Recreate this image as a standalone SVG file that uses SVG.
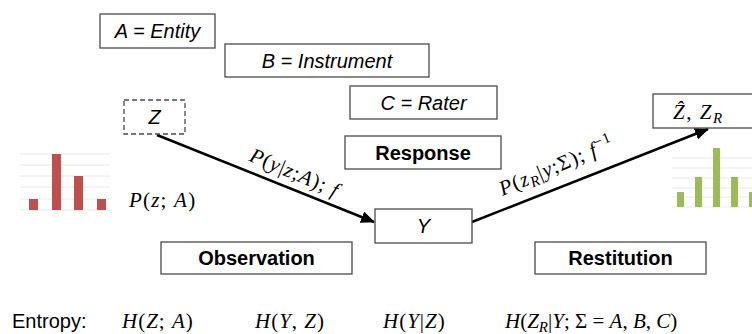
<svg xmlns="http://www.w3.org/2000/svg" width="752" height="334" viewBox="0 0 752 334">
<style>
.box{fill:#fff;stroke:#4a4a4a;stroke-width:1.3}
.dash{fill:#fff;stroke:#4a4a4a;stroke-width:1.3;stroke-dasharray:5 3}
.lbl{font-family:"Liberation Sans",Arial,sans-serif;font-size:20px;fill:#000;text-anchor:middle}
.it{font-style:italic}
.bd{font-weight:bold}
.m{font-family:"Liberation Serif","DejaVu Serif",serif;font-size:21px;fill:#000}
.mi{font-style:italic}
.grid{stroke:#e8e8e8;stroke-width:1}
.red{fill:#c0504d}
.grn{fill:#9bbb59}
.conn{stroke:#000;stroke-width:2.5;fill:none}
</style>
<defs>
<marker id="ah" markerUnits="userSpaceOnUse" markerWidth="14" markerHeight="12" refX="13" refY="6" orient="auto">
<path d="M0,0 L14,6 L0,12 z" fill="#000"/>
</marker>
</defs>

<g id="hist-red">
<path class="grid" d="M20,154H110M20,165H110M20,176H110M20,187H110M20,199H110M20,210H110"/>
<rect class="red" x="29" y="199" width="9" height="11"/>
<rect class="red" x="52" y="154" width="9" height="56"/>
<rect class="red" x="74" y="176" width="9" height="34"/>
<rect class="red" x="97" y="199" width="9" height="11"/>
</g>
<g id="hist-green">
<path class="grid" d="M672,158H752M672,168H752M672,178H752M672,188H752M672,197H752M672,207H752"/>
<rect class="grn" x="677" y="192" width="7" height="15"/>
<rect class="grn" x="695" y="177" width="7" height="30"/>
<rect class="grn" x="713" y="148" width="7" height="59"/>
<rect class="grn" x="731" y="177" width="7" height="30"/>
<rect class="grn" x="749" y="192" width="7" height="15"/>
</g>

<g id="connectors">
<line class="conn" x1="157" y1="135" x2="374" y2="222" marker-end="url(#ah)"/>
<line class="conn" x1="472" y1="222" x2="708" y2="129" marker-end="url(#ah)"/>
<text class="m" transform="translate(292,179) rotate(23)" text-anchor="middle" letter-spacing="1"><tspan class="mi">P</tspan>(<tspan class="mi">y</tspan>|<tspan class="mi">z</tspan>;<tspan class="mi">A</tspan>); <tspan class="mi">f</tspan></text>
<text class="m" transform="translate(559,172) rotate(-23)" text-anchor="middle" letter-spacing="1"><tspan class="mi">P</tspan>(<tspan class="mi">z</tspan><tspan class="mi" font-size="15" dy="4">R</tspan><tspan dy="-4">|</tspan><tspan class="mi">y</tspan>;Σ); <tspan class="mi">f</tspan><tspan font-size="15" dy="-8">−1</tspan></text>
</g>

<g id="entity"><rect class="box" x="100" y="14" width="115" height="34"/><text class="lbl it" x="157.5" y="38">A = Entity</text></g>
<g id="instrument"><rect class="box" x="225" y="44" width="204" height="33"/><text class="lbl it" x="327" y="67.5">B = Instrument</text></g>
<g id="rater"><rect class="box" x="350" y="86" width="147" height="33"/><text class="lbl it" x="423.5" y="109.5">C = Rater</text></g>
<g id="response"><rect class="box" x="345" y="136" width="156" height="33"/><text class="lbl bd" x="423" y="159.5">Response</text></g>
<g id="z"><rect class="dash" x="124" y="100" width="61" height="34"/><text class="lbl it" x="154.5" y="124">Z</text></g>
<g id="y"><rect class="box" x="375" y="209" width="97" height="34"/><text class="lbl it" x="423.5" y="233">Y</text></g>
<g id="observation"><rect class="box" x="161" y="242" width="191" height="32"/><text class="lbl bd" x="256.5" y="265">Observation</text></g>
<g id="restitution"><rect class="box" x="535" y="242" width="171" height="32"/><text class="lbl bd" x="620.5" y="265">Restitution</text></g>
<g id="zhat"><rect class="box" x="653" y="94" width="105" height="34"/><text class="m" x="673" y="119" letter-spacing="1.5"><tspan class="mi">Ẑ</tspan>, <tspan class="mi">Z</tspan><tspan class="mi" font-size="15" dy="4">R</tspan></text></g>

<g id="pza"><text class="m" x="129" y="207" letter-spacing="1.2"><tspan class="mi">P</tspan>(<tspan class="mi">z</tspan>; <tspan class="mi">A</tspan>)</text></g>

<g id="entropy">
<text x="12" y="328" font-family="Liberation Sans,Arial,sans-serif" font-size="20">Entropy:</text>
<text class="m" x="122" y="328" letter-spacing="1"><tspan class="mi">H</tspan>(<tspan class="mi">Z</tspan>; <tspan class="mi">A</tspan>)</text>
<text class="m" x="255" y="328" letter-spacing="1"><tspan class="mi">H</tspan>(<tspan class="mi">Y</tspan>, <tspan class="mi">Z</tspan>)</text>
<text class="m" x="383" y="328" letter-spacing="1"><tspan class="mi">H</tspan>(<tspan class="mi">Y</tspan>|<tspan class="mi">Z</tspan>)</text>
<text class="m" x="505" y="328"><tspan class="mi">H</tspan>(<tspan class="mi">Z</tspan><tspan class="mi" font-size="15" dy="4">R</tspan><tspan dy="-4">|</tspan><tspan class="mi">Y</tspan>; Σ = <tspan class="mi">A</tspan>, <tspan class="mi">B</tspan>, <tspan class="mi">C</tspan>)</text>
</g>
</svg>
